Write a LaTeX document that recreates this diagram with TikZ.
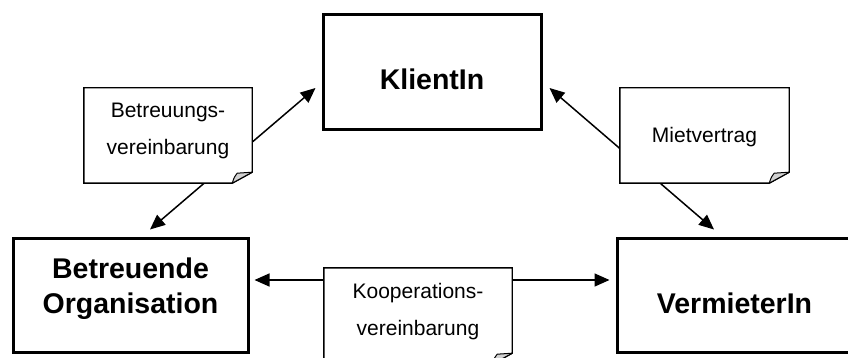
\documentclass[tikz,border=0pt]{standalone}
\usepackage{fontspec}
\setmainfont{Liberation Sans}
\usetikzlibrary{arrows.meta,backgrounds}
\newcommand\drawnote[1]{%
  \draw[noteline] (#1.north west) -- (#1.north east) -- ([yshift=11pt]#1.south east)
    -- ([xshift=-20pt]#1.south east) -- (#1.south west) -- cycle;
  \draw[foldline] ([xshift=-20pt]#1.south east)
    .. controls ([xshift=-18pt,yshift=6pt]#1.south east) .. ([xshift=-15pt,yshift=10pt]#1.south east)
    -- ([yshift=11pt]#1.south east) -- cycle;
}
\tikzset{
  party/.style={draw=black, line width=3pt, inner sep=0pt, minimum height=114pt},
  ptext/.style={font=\fontsize{28.5}{35}\selectfont\bfseries, align=center, inner sep=0pt},
  notebox/.style={inner sep=0pt, minimum height=95pt},
  ntext/.style={font=\fontsize{21}{37}\selectfont, align=center, inner sep=0pt},
  link/.style={line width=1.5pt, {Triangle[length=15pt,width=13pt]}-{Triangle[length=15pt,width=13pt]}},
  noteline/.style={line width=1.4pt, fill=white, line join=miter},
  foldline/.style={line width=1pt, fill=gray!35, line join=round},
}
\begin{document}
\begin{tikzpicture}[x=1pt,y=-1pt]
\clip (0,0) rectangle (848,358);
% parties
\node[party, minimum width=218pt, minimum height=115pt,
      label={[ptext, yshift=-7pt]center:KlientIn}] (kl) at (432,72.5) {};
\node[party, minimum width=235pt,
      label={[ptext, yshift=6.7pt]center:Betreuende\\Organisation}] (bo) at (130.5,295) {};
\node[party, minimum width=235pt,
      label={[ptext, yshift=-8pt]center:VermieterIn}] (vm) at (734.5,295) {};
% note frames
\node[notebox, minimum width=168pt] (nb) at (168,135.5) {};
\node[notebox, minimum width=169pt] (nm) at (704.5,135.5) {};
\node[notebox, minimum width=188pt, minimum height=96pt] (nk) at (418,316) {};
% connectors
\begin{scope}[on background layer]
\draw[link] ([xshift=19.5pt,yshift=7pt]bo.north) -- ([xshift=-6pt,yshift=-15.5pt]kl.west);
\draw[link] ([xshift=7pt,yshift=-15.5pt]kl.east) -- ([xshift=-20.5pt,yshift=7pt]vm.north);
\draw[link] ([xshift=5pt,yshift=15pt]bo.east) -- ([xshift=-6pt,yshift=15pt]vm.west);
\end{scope}
% notes
\drawnote{nb}
\drawnote{nm}
\drawnote{nk}
\node[ntext, yshift=4.5pt] (tb) at (nb.center) {Betreuungs-\\vereinbarung};
\node[ntext, yshift=-2pt] (tm) at (nm.center) {Mietvertrag};
\node[ntext, yshift=4pt] (tk) at (nk.center) {Kooperations-\\vereinbarung};
\end{tikzpicture}
\end{document}
